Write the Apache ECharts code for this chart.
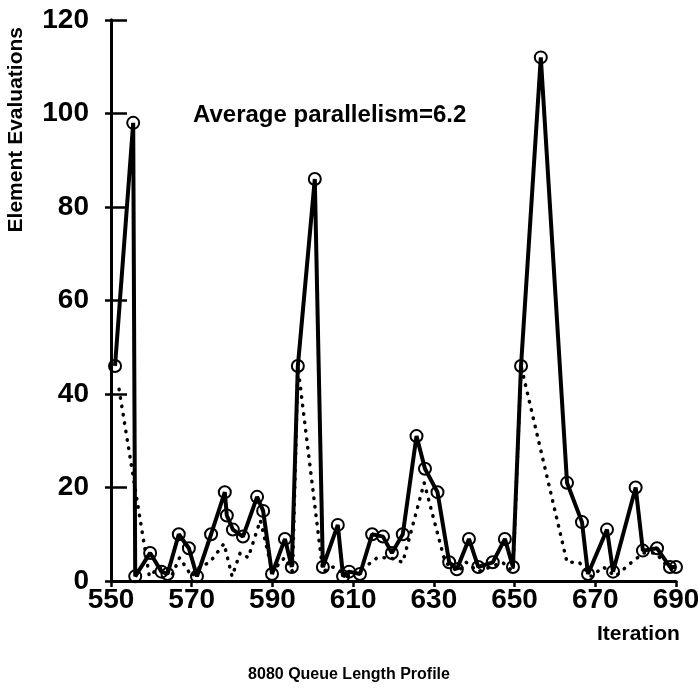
<!DOCTYPE html>
<html>
<head>
<meta charset="utf-8">
<script src="https://cdn.jsdelivr.net/npm/echarts@6/dist/echarts.min.js"></script>
<style>
html,body{margin:0;padding:0;background:#fff;}
#c{width:698px;height:691px;}
</style>
</head>
<body>
<div id="c"></div>
<script>
// Solid profile (iteration, element evaluations)
const solidX = [551, 555.5, 556, 559.7, 562.5, 564, 566.8, 569.3, 571.3, 574.8, 578.2, 578.7, 580.2, 582.7, 586.2, 587.7, 589.9, 593.1, 594.8, 596.3, 600.5, 602.5, 606.2, 607.5, 609, 611.7, 614.7, 617.4, 619.6, 622.3, 625.7, 627.8, 630.9, 633.8, 635.7, 638.7, 641, 644.6, 647.6, 649.6, 651.6, 656.5, 663, 666.7, 668.2, 672.9, 674.4, 680, 681.8, 685.3, 688.5, 690];
const solidY = [46, 98, 1, 6, 2, 1.5, 10, 7, 1, 10, 19, 14, 11, 9.5, 18, 15, 1.5, 9, 3, 46, 86, 3, 12, 1, 2, 1.5, 10, 9.5, 6, 10, 31, 24, 19, 4, 2.5, 9, 3, 4, 9, 3, 46, 112, 21, 12.6, 1.5, 11, 2, 20, 6.5, 7, 3, 3];
// Dotted profile
const dotX = [552, 559.5, 562, 565, 567, 570, 572, 574.5, 578, 580, 582, 584, 587, 590, 593, 595, 596.3, 602.5, 605, 609, 613, 616, 619, 622.3, 627.6, 632.8, 636, 638, 641, 644, 647, 649.6, 651.6, 663, 666, 669, 672, 675, 679, 682, 685, 688, 690];
const dotY = [41, 1, 3, 1, 5, 1, 3, 4, 8, 1, 6, 5, 13, 2, 5, 2, 46, 2, 3, 1, 3, 5, 5, 4, 21, 4, 2, 4, 2, 3, 4, 2, 46, 4, 4, 1, 3, 1, 4, 6, 6, 3, 2];
const xTicks = [550, 570, 590, 610, 630, 650, 670, 690];
const yTicks = [0, 20, 40, 60, 80, 100, 120];

const FONT = '"Liberation Sans", Arial, Helvetica, sans-serif';
const chart = echarts.init(document.getElementById('c'), null, {renderer: 'canvas'});
const pair = (xs, ys) => xs.map((x, i) => [x, ys[i]]);

const axisCommon = {
  axisLine: {show: true, onZero: false, lineStyle: {color: '#000', width: 3}},
  splitLine: {show: false}
};

chart.setOption({
  animation: false,
  backgroundColor: '#fff',
  grid: {left: 111, right: 22, top: 20, bottom: 110, containLabel: false, outerBoundsMode: 'none'},
  xAxis: [{
    type: 'value', min: xTicks[0], max: xTicks[xTicks.length - 1], interval: 20,
    ...axisCommon,
    axisTick: {show: true, inside: false, length: 6, lineStyle: {color: '#000', width: 2.5}},
    axisLabel: {color: '#000', fontFamily: FONT, fontWeight: 'bold', fontSize: 28, margin: 5}
  }],
  yAxis: [{
    type: 'value', min: yTicks[0], max: yTicks[yTicks.length - 1], interval: 20,
    ...axisCommon,
    axisTick: {show: true, inside: false, length: 6, lineStyle: {color: '#000', width: 2.5}},
    axisLabel: {color: '#000', fontFamily: FONT, fontWeight: 'bold', fontSize: 28, margin: 22}
  }, {
    type: 'value', min: yTicks[0], max: yTicks[yTicks.length - 1], interval: 20, position: 'left',
    ...axisCommon,
    axisTick: {show: true, inside: true, length: 16, lineStyle: {color: '#000', width: 2.5}},
    axisLabel: {show: false}
  }],
  title: {
    text: 'Average parallelism=6.2',
    left: 188, top: 98,
    textStyle: {color: '#000', fontFamily: FONT, fontWeight: 'bold', fontSize: 24}
  },
  graphic: [
    {type: 'text', left: 6, top: 27, rotation: Math.PI / 2,
     style: {text: 'Element Evaluations', fill: '#000', font: 'bold 21px ' + FONT}},
    {type: 'text', left: 597, top: 624,
     style: {text: 'Iteration', fill: '#000', font: 'bold 21px ' + FONT}},
    {type: 'text', left: 'center', top: 667,
     style: {text: '8080 Queue Length Profile', fill: '#000', font: 'bold 16px ' + FONT}}
  ],
  series: [{
    type: 'line', name: 'dotted', data: pair(dotX, dotY),
    symbol: 'none', lineStyle: {color: '#000', width: 3.5, type: [0.5, 8], cap: 'round'}, z: 2
  }, {
    type: 'line', name: 'solid', data: pair(solidX, solidY),
    symbol: 'circle', symbolSize: 12,
    lineStyle: {color: '#000', width: 4},
    itemStyle: {color: 'rgba(0,0,0,0)', borderColor: '#000', borderWidth: 2},
    z: 3
  }]
});
</script>
</body>
</html>
